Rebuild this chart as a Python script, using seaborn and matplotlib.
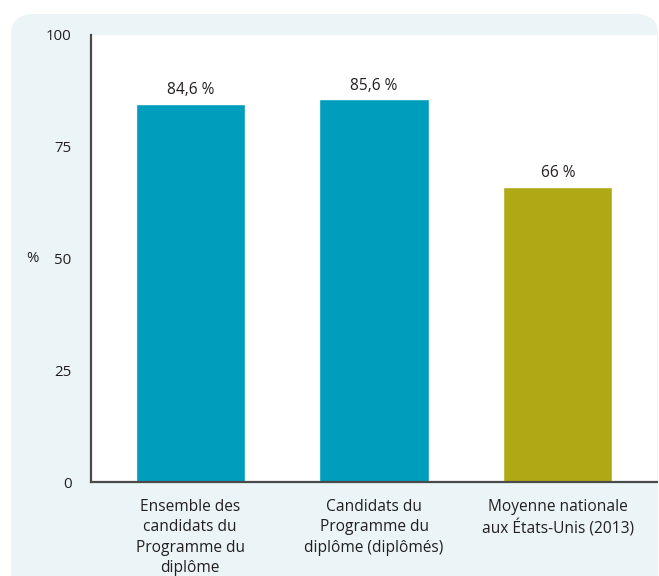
import matplotlib
matplotlib.use("Agg")
import matplotlib.pyplot as plt
import seaborn as sns
import pandas as pd
from matplotlib.patches import FancyBboxPatch

categories = ["Ensemble des\ncandidats du\nProgramme du\ndiplôme",
              "Candidats du\nProgramme du\ndiplôme (diplômés)",
              "Moyenne nationale\naux États-Unis (2013)"]
values = [84.6, 85.6, 66]
value_labels = ["84,6 %", "85,6 %", "66 %"]
colors = ["#009dbc", "#009dbc", "#b0a814"]
yticks = [0, 25, 50, 75, 100]

sns.set_theme(style="white")
plt.rcParams['font.family'] = ['Open Sans', 'DejaVu Sans']

W, H = 659, 576
fig = plt.figure(figsize=(W / 100, H / 100), dpi=100)
fig.patch.set_facecolor("white")

# light panel background
panel = FancyBboxPatch((11 / W, -0.05), (647 / W), (H - 14) / H + 0.05,
                       boxstyle="round,pad=0,rounding_size=0.035",
                       transform=fig.transFigure, facecolor="#ebf5f8",
                       edgecolor="none", zorder=-10)
fig.add_artist(panel)

ax = fig.add_axes([91 / W, (H - 482) / H, (657 - 91) / W, (482 - 35) / H])
ax.set_zorder(5)
ax.set_facecolor("white")

df = pd.DataFrame({"cat": categories, "val": values})
sns.barplot(data=df, x="cat", y="val", hue="cat", palette=colors,
            legend=False, width=0.595, saturation=1, ax=ax)

txt = "#231f20"
for i, (v, lab) in enumerate(zip(values, value_labels)):
    ax.annotate(lab, (i, v), xytext=(0, 4), textcoords="offset points",
                ha="center", va="bottom", fontsize=11.2, color=txt)

ax.set_ylim(0, 100)
ax.set_xlim(-0.54, 2.54)
ax.set_yticks(yticks)
ax.set_yticklabels([str(t) for t in yticks])
ax.tick_params(axis="y", length=0, pad=14, labelsize=10.8, labelcolor=txt)
ax.tick_params(axis="x", length=0, pad=12, labelsize=11.2, labelcolor=txt)
for lbl in ax.get_xticklabels():
    lbl.set_linespacing(1.38)
ax.set_xlabel("")
ax.set_ylabel("%", rotation=0, fontsize=10.8, color=txt, va="center", ha="center")
ax.yaxis.set_label_coords(-0.103, 0.5)

for s in ["top", "right"]:
    ax.spines[s].set_visible(False)
for s in ["left", "bottom"]:
    ax.spines[s].set_color("#4a4a4a")
    ax.spines[s].set_linewidth(1.6)

fig.savefig("out.png", dpi=100)
